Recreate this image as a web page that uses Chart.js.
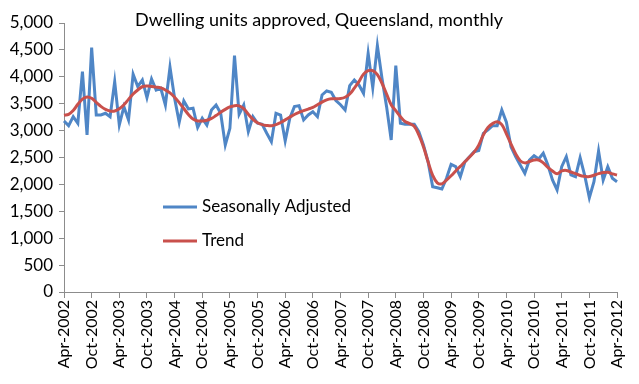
<!DOCTYPE html>
<html lang="en">
<head>
    <meta charset="UTF-8">
    <title>Dwelling units approved, Queensland, monthly</title>
    <style>
        body {
            margin: 0;
            padding: 0;
            background-color: #fff;
        }
        .chart-box {
            width: 639px;
            height: 384px;
        }
    </style>
</head>
<body>

    <div class="chart-box">
        <canvas id="dwellingChart"></canvas>
    </div>

    <script src="https://cdn.jsdelivr.net/npm/chart.js"></script>

    <script>
        // Monthly categories, Apr-2002 to Apr-2012
        const monthNames = ['Jan', 'Feb', 'Mar', 'Apr', 'May', 'Jun', 'Jul', 'Aug', 'Sep', 'Oct', 'Nov', 'Dec'];
        const months = [];
        for (let i = 0; i < 121; i++) {
            const m = 3 + i;
            months.push(monthNames[m % 12] + '-' + (2002 + Math.floor(m / 12)));
        }

        const seasonallyAdjusted = [
            3179, 3092, 3259, 3136, 4096, 2919, 4542, 3290, 3290, 3322, 3259, 3910,
            3104, 3445, 3198, 4047, 3817, 3941, 3612, 3960, 3755, 3786, 3476, 4177,
            3600, 3155, 3551, 3402, 3415, 3060, 3229, 3104, 3383, 3476, 3322, 2733,
            3043, 4393, 3303, 3476, 2980, 3259, 3136, 3117, 2950, 2794, 3322, 3290,
            2807, 3229, 3445, 3464, 3198, 3290, 3352, 3259, 3662, 3737, 3712, 3560,
            3480, 3383, 3835, 3941, 3848, 3693, 4437, 3798, 4579, 3972, 3445, 2826,
            4207, 3136, 3117, 3120, 3117, 2980, 2733, 2422, 1957, 1939, 1915, 2114,
            2374, 2329, 2143, 2422, 2515, 2608, 2630, 2950, 3012, 3092, 3092, 3383,
            3155, 2701, 2515, 2361, 2207, 2454, 2534, 2472, 2578, 2361, 2082, 1896,
            2329, 2515, 2175, 2143, 2497, 2162, 1753, 2050, 2621, 2082, 2329, 2114,
            2050
        ];

        const trend = [
            3285, 3303, 3375, 3490, 3585, 3625, 3600, 3525, 3450, 3395, 3365, 3365,
            3405, 3480, 3580, 3680, 3755, 3815, 3828, 3820, 3808, 3793, 3755, 3700,
            3620, 3520, 3410, 3300, 3215, 3180, 3179, 3192, 3226, 3280, 3340, 3395,
            3440, 3464, 3460, 3410, 3303, 3210, 3145, 3110, 3095, 3090, 3110, 3150,
            3200, 3250, 3300, 3340, 3370, 3400, 3430, 3480, 3530, 3570, 3590, 3590,
            3595, 3620, 3680, 3790, 3910, 4050, 4115, 4115, 4040, 3880, 3680, 3480,
            3370, 3260, 3170, 3130, 3080, 2920, 2700, 2420, 2170, 2030, 2010, 2080,
            2160, 2250, 2335, 2420, 2510, 2600, 2730, 2920, 3060, 3130, 3165, 3110,
            2940, 2750, 2570, 2440, 2400, 2425, 2454, 2454, 2400, 2315, 2250, 2200,
            2250, 2260, 2230, 2200, 2165, 2150, 2145, 2170, 2200, 2220, 2225, 2195,
            2175
        ];

        const yTicks = [0, 500, 1000, 1500, 2000, 2500, 3000, 3500, 4000, 4500, 5000];
        const chartTitle = 'Dwelling units approved, Queensland, monthly';

        const fontFamily = 'Lato, "Open Sans", sans-serif';
        const axisGrey = '#8c8c8c';

        // title and legend sit inside the plot, so draw them by hand
        const overlayPlugin = {
            id: 'overlay',
            afterDraw(chart) {
                const ctx = chart.ctx;
                ctx.save();
                ctx.fillStyle = '#000';
                ctx.font = '18px ' + fontFamily;
                ctx.textBaseline = 'middle';
                ctx.textAlign = 'center';
                ctx.fillText(chartTitle, 319, 20);

                ctx.font = '17px ' + fontFamily;
                ctx.textAlign = 'left';
                const rows = [207, 241];
                chart.data.datasets.forEach((ds, i) => {
                    const y = rows[i];
                    ctx.strokeStyle = ds.borderColor;
                    ctx.lineWidth = ds.borderWidth;
                    ctx.beginPath();
                    ctx.moveTo(163, y);
                    ctx.lineTo(197, y);
                    ctx.stroke();
                    ctx.fillText(ds.label, 202, y);
                });
                ctx.restore();
            }
        };

        const dwellingChart = new Chart(document.getElementById('dwellingChart'), {
            type: 'line',
            data: {
                labels: months,
                datasets: [{
                    label: 'Seasonally Adjusted',
                    data: seasonallyAdjusted,
                    borderColor: '#4f86c6',
                    borderWidth: 3,
                    pointRadius: 0,
                    tension: 0,
                    fill: false,
                    order: 1
                }, {
                    label: 'Trend',
                    data: trend,
                    borderColor: '#c9504c',
                    borderWidth: 3,
                    pointRadius: 0,
                    tension: 0.4,
                    fill: false,
                    order: 0
                }]
            },
            options: {
                responsive: true,
                maintainAspectRatio: false,
                animation: false,
                layout: { padding: { top: 23, right: 22, left: 0, bottom: 0 } },
                plugins: {
                    legend: { display: false },
                    title: { display: false },
                    tooltip: { enabled: false }
                },
                scales: {
                    x: {
                        offset: false,
                        grid: { drawOnChartArea: false, color: axisGrey, tickLength: 6 },
                        border: { color: axisGrey, width: 1 },
                        ticks: {
                            autoSkip: false,
                            maxRotation: 90,
                            minRotation: 90,
                            padding: 2,
                            color: '#000',
                            font: { family: fontFamily, size: 16 },
                            callback: (value, index) => index % 6 === 0 ? months[index] : null
                        },
                        afterFit: (scale) => { scale.height = 92; }
                    },
                    y: {
                        min: 0,
                        max: 5000,
                        afterBuildTicks: (scale) => { scale.ticks = yTicks.map(v => ({ value: v })); },
                        grid: { drawOnChartArea: false, color: axisGrey, tickLength: 5 },
                        border: { color: axisGrey, width: 1 },
                        ticks: {
                            padding: 6,
                            color: '#000',
                            font: { family: fontFamily, size: 17 },
                            callback: (value) => value.toLocaleString('en-US')
                        },
                        afterFit: (scale) => { scale.width = 64; }
                    }
                }
            },
            plugins: [overlayPlugin]
        });
    </script>

</body>
</html>
